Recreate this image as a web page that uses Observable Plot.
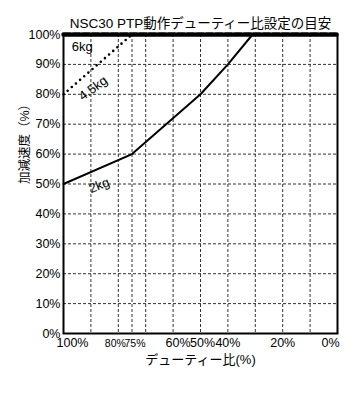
<!DOCTYPE html>
<html><head><meta charset="utf-8">
<script src="https://cdn.jsdelivr.net/npm/d3@7"></script>
<script src="https://cdn.jsdelivr.net/npm/@observablehq/plot@0.6"></script>
<style>body{margin:0;background:#fff}</style>
</head><body><div id="chart"></div>
<script>
const title = "NSC30 PTP動作デューティー比設定の目安";
const xLabel = "デューティー比(%)";
const yLabel = "加減速度（%）";
const xTickLabels = [100, 80, 75, 60, 50, 40, 20, 0];
const xGridLines = [90, 80, 75, 70, 60, 50, 40, 30, 20, 10];
const yTicks = [0, 10, 20, 30, 40, 50, 60, 70, 80, 90, 100];
const duty2kg = [100, 75, 50, 40, 31];
const acc2kg = [50, 60, 80, 90, 100];
const duty45kg = [100, 75];
const acc45kg = [80, 100];
const duty6kg = [100, 0];
const acc6kg = [100, 100];
const seriesLabels = [
  {text: "6kg", x: 93.2, y: 96, rotate: 0},
  {text: "4.5kg", x: 89.2, y: 82, rotate: -36},
  {text: "2kg", x: 87, y: 49.5, rotate: -22}
];

const line2 = duty2kg.map((d, i) => ({x: d, y: acc2kg[i]}));
const line45 = duty45kg.map((d, i) => ({x: d, y: acc45kg[i]}));
const line6 = duty6kg.map((d, i) => ({x: d, y: acc6kg[i]}));

const labelShift = {100: 9, 80: -3, 75: 3, 60: 5, 50: 2, 40: 0, 20: 0, 0: -7};
const xTickMarks = xTickLabels.map(v => Plot.text([v], {
  x: d => d, text: d => d + "%", frameAnchor: "bottom", dy: 13, dx: labelShift[v], fill: "#000",
  fontSize: (v === 80 || v === 75) ? 10.5 : 12.5
}));

const chart = Plot.plot({
  width: 353, height: 410,
  marginTop: 34, marginBottom: 77, marginLeft: 63, marginRight: 16,
  style: {fontFamily: "'Liberation Sans', 'Noto Sans CJK JP', sans-serif", background: "#fff", color: "#000"},
  x: {domain: [100, 0], axis: null},
  y: {domain: [0, 100], axis: null},
  marks: [
    Plot.gridX(xGridLines, {stroke: "#333", strokeOpacity: 1, strokeDasharray: "3,2", strokeWidth: 1}),
    Plot.gridY(yTicks.filter(d => d > 0 && d < 100), {stroke: "#333", strokeOpacity: 1, strokeDasharray: "3,2", strokeWidth: 1}),
    Plot.frame({stroke: "#000", strokeWidth: 2}),
    Plot.axisY({ticks: yTicks, tickFormat: d => d + "%", tickSize: 0, tickPadding: 3, fontSize: 12.5, fill: "#000", label: null}),
    Plot.text([yLabel], {frameAnchor: "left", dx: -39, rotate: -90, fontSize: 12.5, text: d => d, fill: "#000"}),
    ...xTickMarks,
    Plot.text([xLabel], {frameAnchor: "bottom", dy: 30, fontSize: 13, text: d => d, fill: "#000"}),
    Plot.text([title], {frameAnchor: "top", dy: -16, fontSize: 13.5, text: d => d, fill: "#000"}),
    Plot.line(line45, {x: "x", y: "y", stroke: "#000", strokeWidth: 2.6, strokeDasharray: "0,5.5", strokeLinecap: "round"}),
    Plot.line(line2, {x: "x", y: "y", stroke: "#000", strokeWidth: 2}),
    Plot.line(line6, {x: "x", y: "y", stroke: "#000", strokeWidth: 4.5, strokeDasharray: "7,2.5"}),
    Plot.text(seriesLabels, {x: "x", y: "y", text: "text", rotate: "rotate", fontSize: 13, fill: "#000"})
  ]
});
document.getElementById("chart").appendChild(chart);
</script></body></html>
